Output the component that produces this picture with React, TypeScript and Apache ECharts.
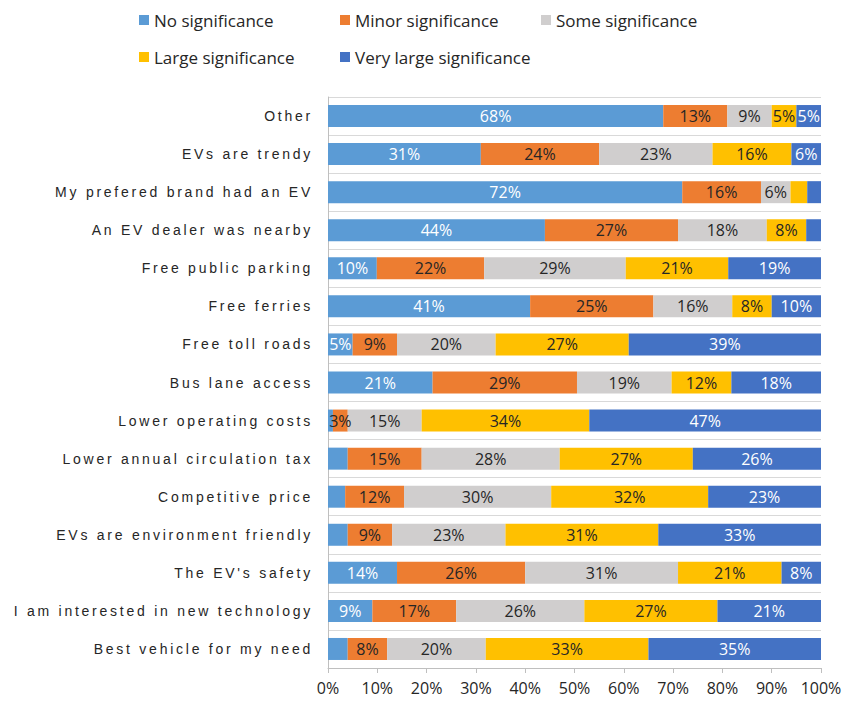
import React, { useEffect, useRef } from "react";
import * as echarts from "echarts";

const categories = [
  "Other",
  "EVs are trendy",
  "My prefered brand had an EV",
  "An EV dealer was nearby",
  "Free public parking",
  "Free ferries",
  "Free toll roads",
  "Bus lane access",
  "Lower operating costs",
  "Lower annual circulation tax",
  "Competitive price",
  "EVs are environment friendly",
  "The EV's safety",
  "I am interested in new technology",
  "Best vehicle for my need",
];

const seriesNames = [
  "No significance",
  "Minor significance",
  "Some significance",
  "Large significance",
  "Very large significance",
];

const noSignificance = [68, 31, 72, 44, 10, 41, 5, 21, 1, 4, 3.5, 4, 14, 9, 4];
const minorSignificance = [13, 24, 16, 27, 22, 25, 9, 29, 3, 15, 12, 9, 26, 17, 8];
const someSignificance = [9, 23, 6, 18, 29, 16, 20, 19, 15, 28, 30, 23, 31, 26, 20];
const largeSignificance = [5, 16, 3.4, 8, 21, 8, 27, 12, 34, 27, 32, 31, 21, 27, 33];
const veryLargeSignificance = [5, 6, 2.8, 3, 19, 10, 39, 18, 47, 26, 23, 33, 8, 21, 35];

const xTicks = [0, 10, 20, 30, 40, 50, 60, 70, 80, 90, 100];

const colors = ["#5B9BD5", "#ED7D31", "#D0CECE", "#FFC000", "#4472C4"];
const labelColors = ["#ffffff", "#262626", "#262626", "#262626", "#ffffff"];

const FONT = "'Open Sans', sans-serif";

export default function App() {
  const ref = useRef<HTMLDivElement>(null);
  useEffect(() => {
    document.body.style.margin = "0";
    if (!ref.current) return;
    const chart = echarts.init(ref.current, undefined, { renderer: "svg" });
    const raw = [noSignificance, minorSignificance, someSignificance, largeSignificance, veryLargeSignificance];
    const totals = categories.map((_, r) => raw.reduce((s, arr) => s + arr[r], 0));

    const legendPos = [
      { left: 139, top: 11.5 },
      { left: 340, top: 11.5 },
      { left: 541, top: 11.5 },
      { left: 139, top: 48.5 },
      { left: 340, top: 48.5 },
    ];

    chart.setOption({
      animation: false,
      legend: seriesNames.map((n, i) => ({
        data: [n],
        left: legendPos[i].left,
        top: legendPos[i].top,
        padding: 0,
        itemWidth: 10,
        itemHeight: 10,
        icon: "rect",
        textStyle: { fontSize: 17, color: "#262626", fontFamily: FONT },
        selectedMode: false,
      })),
      grid: { left: 328, right: 37, top: 97, bottom: 33, containLabel: false },
      xAxis: {
        type: "value",
        min: 0,
        max: 100,
        interval: 10,
        axisLabel: {
          formatter: (v: number) => (xTicks.includes(v) ? v + "%" : ""),
          fontSize: 16,
          color: "#262626",
          fontFamily: FONT,
          margin: 12,
        },
        axisLine: { show: true, lineStyle: { color: "#bfbfbf" } },
        axisTick: { show: true, length: 5, lineStyle: { color: "#bfbfbf" } },
        splitLine: { show: false },
      },
      yAxis: {
        type: "category",
        data: categories,
        inverse: true,
        axisLine: { show: true, lineStyle: { color: "#bfbfbf" } },
        axisTick: { show: false },
        axisLabel: { fontSize: 14, color: "#262626", margin: 15, fontFamily: "'Liberation Sans', Arial, sans-serif" },
        splitLine: { show: true, lineStyle: { color: "#d9d9d9" } },
      },
      series: seriesNames.map((name, i) => ({
        name,
        type: "bar",
        stack: "total",
        barWidth: 22,
        itemStyle: { color: colors[i] },
        label: {
          show: true,
          position: "inside",
          fontSize: 16,
          fontFamily: FONT,
          color: labelColors[i],
          formatter: (p: any) => {
            const v = raw[i][p.dataIndex];
            if (v < 5 && i !== 1) return "";
            return Math.round(v) + "%";
          },
        },
        data: raw[i].map((v, r) => (v / totals[r]) * 100),
      })),
    });

    const catSet = new Set(categories);
    ref.current.querySelectorAll("text").forEach((t) => {
      if (catSet.has((t.textContent || "").trim())) {
        (t as SVGTextElement).style.letterSpacing = "2.75px";
      }
    });

    return () => chart.dispose();
  }, []);
  return <div ref={ref} style={{ width: 858, height: 701 }} />;
}
